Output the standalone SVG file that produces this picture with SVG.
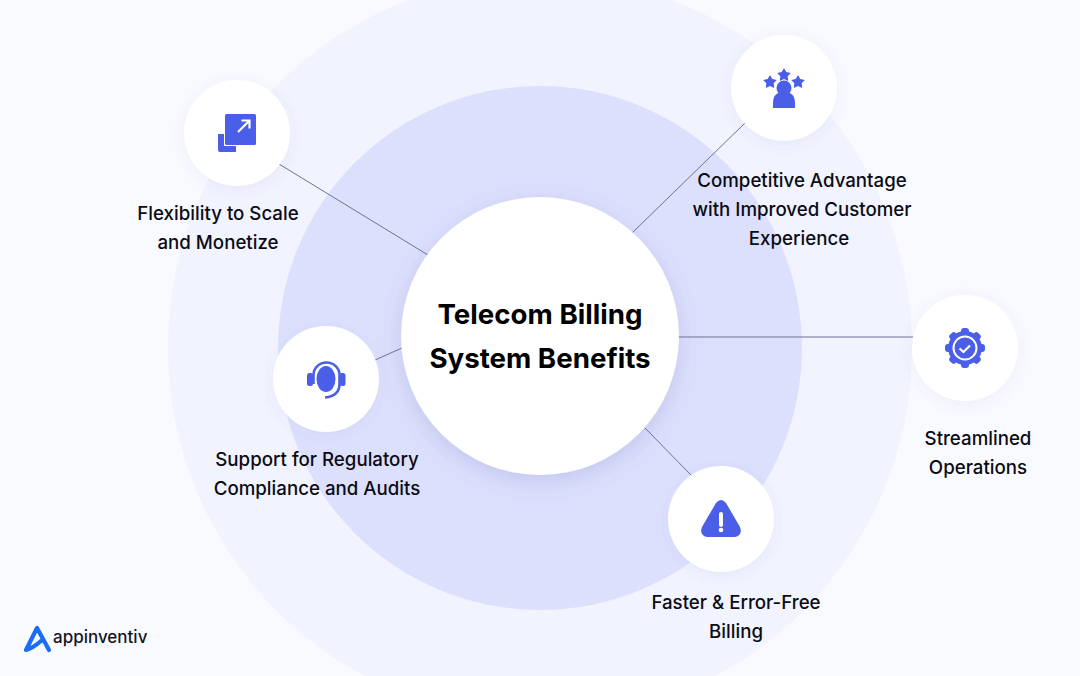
<svg xmlns="http://www.w3.org/2000/svg" width="1080" height="676" viewBox="0 0 1080 676">
<defs>
<filter id="s1" x="-30%" y="-30%" width="160%" height="160%"><feDropShadow dx="0" dy="6" stdDeviation="12" flood-color="#5a60b0" flood-opacity="0.22"/></filter>
<filter id="s2" x="-30%" y="-30%" width="160%" height="160%"><feDropShadow dx="0" dy="3" stdDeviation="7" flood-color="#5a60b0" flood-opacity="0.08"/></filter>
<style>
.n{fill:#fff;filter:url(#s2)}
.i{fill:#4a5ee8}
.t{font-family:"Inter","Liberation Sans",sans-serif;font-size:18.7px;font-weight:500;fill:#0b0b14;text-anchor:middle}
.h{font-family:"Inter","Liberation Sans",sans-serif;font-size:27.7px;font-weight:700;fill:#000;text-anchor:middle}
.c{stroke:#6f7196;stroke-width:1;fill:none}
</style>
</defs>
<rect width="1080" height="676" fill="#f9faff"/>
<circle cx="540" cy="348" r="372" fill="#f1f3ff"/>
<circle cx="540" cy="348" r="262" fill="#dde0fd"/>
<g id="connectors">
<line class="c" x1="279" y1="164" x2="428" y2="255"/>
<line class="c" x1="745" y1="123" x2="632" y2="233"/>
<line class="c" x1="678" y1="337" x2="913" y2="337"/>
<line class="c" x1="375" y1="360" x2="402" y2="348"/>
<line class="c" x1="645" y1="428" x2="691" y2="475"/>
</g>
<g id="center">
<circle cx="540" cy="336" r="139" fill="#fff" filter="url(#s1)"/>
<text class="h" x="540" y="323.500">Telecom Billing</text>
<text class="h" x="540" y="367.500">System Benefits</text>
</g>
<g id="node-flexibility">
<circle class="n" cx="237" cy="133" r="53"/>
<path class="i" d="M218 134h6v12h12v6h-16q-2 0-2-2z"/>
<rect class="i" x="225" y="114" width="31" height="31" rx="1.5"/>
<path d="M238 132L249 121M241.500 120.500H249.500V128.500" fill="none" stroke="#fff" stroke-width="2.200"/>
<text class="t" x="218" y="220">Flexibility to Scale</text>
<text class="t" x="218" y="249">and Monetize</text>
</g>
<g id="node-competitive">
<circle class="n" cx="784" cy="88" r="53"/>
<circle class="i" cx="784" cy="88" r="7.500"/>
<path class="i" d="M773 108v-5q0-11 11-11t11 11v5z"/>
<path class="i" d="M784 68l2.300 4 4.500.9-3.100 3.400.5 4.600-4.200-1.900-4.200 1.900.5-4.600-3.100-3.400 4.500-.9z"/>
<path class="i" d="M770 75l2.300 4 4.500.9-3.100 3.400.5 4.600-4.200-1.900-4.200 1.900.5-4.600-3.100-3.400 4.500-.9z"/>
<path class="i" d="M798 75l2.300 4 4.500.9-3.100 3.400.5 4.600-4.200-1.900-4.200 1.900.5-4.600-3.100-3.400 4.500-.9z"/>
<text class="t" x="802" y="186.500">Competitive Advantage</text>
<text class="t" x="802" y="215.500">with Improved Customer</text>
<text class="t" x="799" y="244.500">Experience</text>
</g>
<g id="node-streamlined">
<circle class="n" cx="965" cy="348" r="53"/>
<circle class="i" cx="965" cy="348" r="17"/>
<g class="i">
<rect x="961" y="328" width="8" height="40" rx="3"/>
<rect x="961" y="328" width="8" height="40" rx="3" transform="rotate(45 965 348)"/>
<rect x="961" y="328" width="8" height="40" rx="3" transform="rotate(90 965 348)"/>
<rect x="961" y="328" width="8" height="40" rx="3" transform="rotate(135 965 348)"/>
</g>
<circle cx="965" cy="348" r="11.500" fill="#4a5ee8" stroke="#fff" stroke-width="2"/>
<path d="M959.500 348.500l4 3.500 6.500-6.500" fill="none" stroke="#fff" stroke-width="2.200"/>
<text class="t" x="978" y="445">Streamlined</text>
<text class="t" x="978" y="474">Operations</text>
</g>
<g id="node-support">
<circle class="n" cx="326" cy="379" r="53"/>
<ellipse class="i" cx="326" cy="379" rx="9.500" ry="13"/>
<path d="M313.500 384v-9a13 12.500 0 0 1 26 0v9q0 12-14.500 13.500" fill="none" stroke="#4a5ee8" stroke-width="2.600"/>
<rect class="i" x="307" y="373" width="6" height="13" rx="2.500"/>
<rect class="i" x="339.500" y="373" width="6" height="13" rx="2.500"/>
<text class="t" x="317" y="466">Support for Regulatory</text>
<text class="t" x="317" y="495">Compliance and Audits</text>
</g>
<g id="node-billing">
<circle class="n" cx="721" cy="519" r="53"/>
<path class="i" d="M716 503q5-6 10 0l14 24q3 8-5 10h-28q-8-2-5-10z"/>
<rect x="719" y="512" width="4" height="15" rx="2" fill="#fff"/>
<circle cx="721" cy="530" r="2.300" fill="#fff"/>
<text class="t" x="736" y="609">Faster &amp; Error-Free</text>
<text class="t" x="736" y="638">Billing</text>
</g>
<g id="logo">
<path d="M49 650L37 628L26 650Q33 648 41 641" fill="none" stroke="#1a6cf5" stroke-width="4.200" stroke-linejoin="round" stroke-linecap="round"/>
<text x="53" y="642.500" font-family="Inter,'Liberation Sans',sans-serif" font-size="17" font-weight="500" fill="#15151f">appinventiv</text>
</g>
</svg>
